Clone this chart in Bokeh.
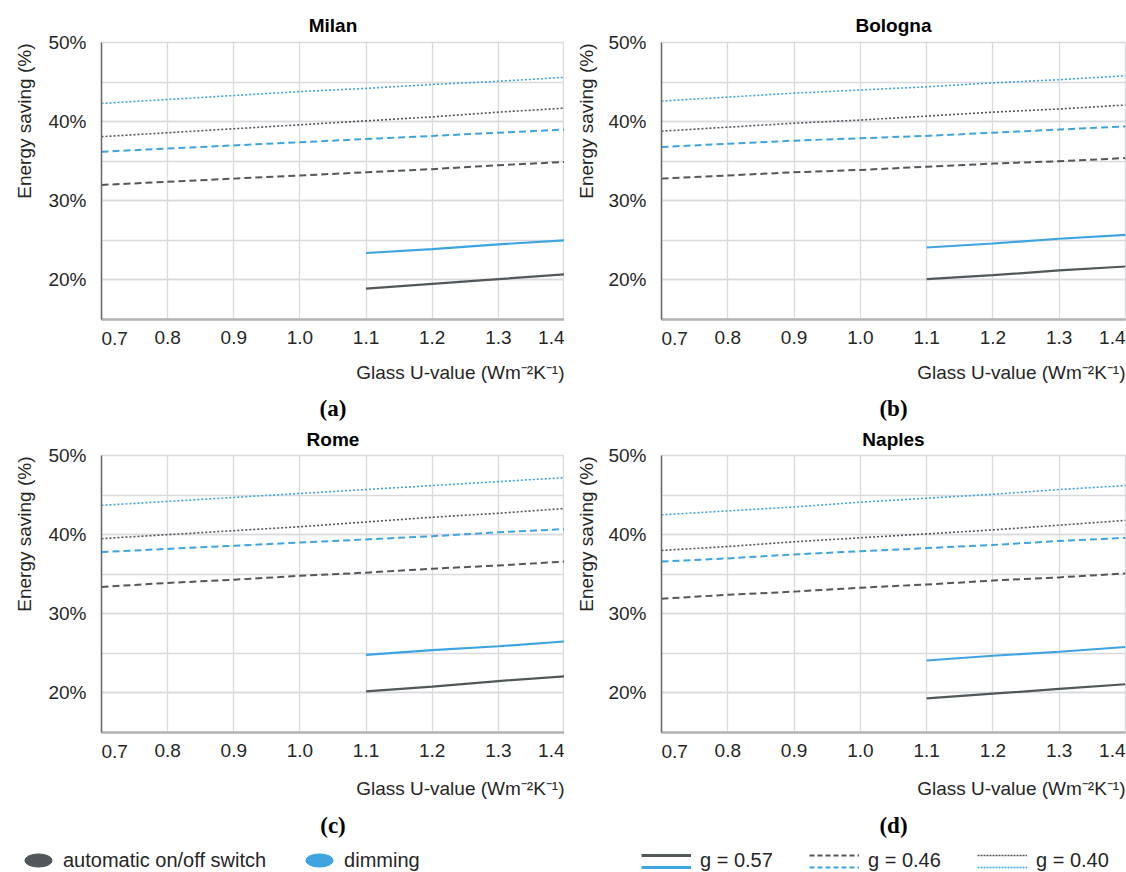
from bokeh.plotting import figure
from bokeh.models import Range1d, FixedTicker, Title, Legend, LegendItem, LinearAxis
from bokeh.layouts import column, row
from bokeh.embed import file_html
from bokeh.resources import INLINE

# ---------------- data ----------------
u_all = [0.7, 0.8, 0.9, 1.0, 1.1, 1.2, 1.3, 1.4]
u_high = [1.1, 1.2, 1.3, 1.4]

x_ticks = [0.7, 0.8, 0.9, 1.0, 1.1, 1.2, 1.3, 1.4]
x_tick_labels = ["0.7", "0.8", "0.9", "1.0", "1.1", "1.2", "1.3", "1.4"]
y_ticks = [20, 30, 40, 50]
y_tick_labels = ["20%", "30%", "40%", "50%"]
y_grid_ticks = [15, 20, 25, 30, 35, 40, 45, 50]

cities = ["Milan", "Bologna", "Rome", "Naples"]
captions = ["(a)", "(b)", "(c)", "(d)"]
controls = ["automatic on/off switch", "dimming"]
g_labels = ["g = 0.57", "g = 0.46", "g = 0.40"]
x_title = "Glass U-value (Wm\u207b\u00b2K\u207b\u00b9)"
y_title = "Energy saving (%)"

# Milan
milan_switch_g040 = [38.1, 38.6, 39.1, 39.6, 40.1, 40.6, 41.2, 41.7]
milan_dimming_g040 = [42.3, 42.8, 43.3, 43.8, 44.2, 44.7, 45.1, 45.6]
milan_switch_g046 = [32.0, 32.4, 32.8, 33.2, 33.6, 34.0, 34.5, 34.9]
milan_dimming_g046 = [36.2, 36.6, 37.0, 37.4, 37.8, 38.2, 38.6, 39.0]
milan_switch_g057 = [18.9, 19.5, 20.1, 20.7]
milan_dimming_g057 = [23.4, 23.9, 24.5, 25.0]

# Bologna
bologna_switch_g040 = [38.8, 39.3, 39.8, 40.2, 40.7, 41.2, 41.6, 42.1]
bologna_dimming_g040 = [42.6, 43.1, 43.6, 44.0, 44.4, 44.9, 45.3, 45.8]
bologna_switch_g046 = [32.8, 33.2, 33.6, 33.9, 34.3, 34.7, 35.0, 35.4]
bologna_dimming_g046 = [36.8, 37.2, 37.6, 37.9, 38.2, 38.6, 39.0, 39.4]
bologna_switch_g057 = [20.1, 20.6, 21.2, 21.7]
bologna_dimming_g057 = [24.1, 24.6, 25.2, 25.7]

# Rome
rome_switch_g040 = [39.5, 40.0, 40.5, 41.0, 41.6, 42.2, 42.7, 43.3]
rome_dimming_g040 = [43.7, 44.2, 44.7, 45.2, 45.7, 46.2, 46.7, 47.2]
rome_switch_g046 = [33.4, 33.9, 34.3, 34.8, 35.2, 35.7, 36.1, 36.6]
rome_dimming_g046 = [37.8, 38.2, 38.6, 39.0, 39.4, 39.8, 40.3, 40.7]
rome_switch_g057 = [20.2, 20.8, 21.5, 22.1]
rome_dimming_g057 = [24.8, 25.4, 25.9, 26.5]

# Naples
naples_switch_g040 = [38.0, 38.5, 39.1, 39.6, 40.1, 40.6, 41.2, 41.8]
naples_dimming_g040 = [42.5, 43.0, 43.5, 44.1, 44.6, 45.1, 45.7, 46.2]
naples_switch_g046 = [31.9, 32.4, 32.8, 33.3, 33.7, 34.2, 34.6, 35.1]
naples_dimming_g046 = [36.6, 37.0, 37.5, 37.9, 38.3, 38.7, 39.2, 39.6]
naples_switch_g057 = [19.3, 19.9, 20.5, 21.1]
naples_dimming_g057 = [24.1, 24.7, 25.2, 25.8]

city_data = {
    "Milan": {"switch": {"g057": milan_switch_g057, "g046": milan_switch_g046, "g040": milan_switch_g040},
              "dimming": {"g057": milan_dimming_g057, "g046": milan_dimming_g046, "g040": milan_dimming_g040}},
    "Bologna": {"switch": {"g057": bologna_switch_g057, "g046": bologna_switch_g046, "g040": bologna_switch_g040},
                "dimming": {"g057": bologna_dimming_g057, "g046": bologna_dimming_g046, "g040": bologna_dimming_g040}},
    "Rome": {"switch": {"g057": rome_switch_g057, "g046": rome_switch_g046, "g040": rome_switch_g040},
             "dimming": {"g057": rome_dimming_g057, "g046": rome_dimming_g046, "g040": rome_dimming_g040}},
    "Naples": {"switch": {"g057": naples_switch_g057, "g046": naples_switch_g046, "g040": naples_switch_g040},
               "dimming": {"g057": naples_dimming_g057, "g046": naples_dimming_g046, "g040": naples_dimming_g040}},
}

# ---------------- styles ----------------
GRAY = "#52575a"
BLUE = "#3ea4e0"
GRID = "#d9d9de"
FONT = "Liberation Sans"
SERIF = "Liberation Serif"
TXT = "#262626"

COLORS = {"switch": GRAY, "dimming": BLUE}
G_KEYS = ["g057", "g046", "g040"]
G_X = {"g057": u_high, "g046": u_all, "g040": u_all}
G_DASH = {"g057": "solid", "g046": "7 4", "g040": "2 2"}
G_WIDTH = {"g057": 2.2, "g046": 2.0, "g040": 1.6}

FRAME_H = 277


def style_axis_labels(ax):
    ax.major_tick_line_color = None
    ax.minor_tick_line_color = None
    ax.major_tick_out = 0
    ax.major_tick_in = 0
    ax.major_label_text_font = FONT
    ax.major_label_text_font_size = "19px"
    ax.major_label_text_color = TXT


def caption_title(text):
    return Title(text=text, align="center", vertical_align="bottom", standoff=0,
                 text_font=SERIF, text_font_size="23px", text_font_style="bold",
                 text_color="black")


def make_panel(city, frame_w, left_b, right_b, top_b, bottom_b, title_so, ylab_so,
               xlab_so, cap_above=None, cap_below=None):
    p = figure(frame_width=frame_w, frame_height=FRAME_H,
               min_border_left=left_b, min_border_right=right_b,
               min_border_top=top_b, min_border_bottom=bottom_b,
               x_range=Range1d(x_ticks[0], x_ticks[-1]), y_range=Range1d(15, 50),
               output_backend="svg", toolbar_location=None, tools="")
    p.background_fill_color = "white"
    p.border_fill_color = "white"
    p.outline_line_color = GRID
    p.outline_line_width = 1.3

    # city title (nearest the frame), then optional caption of the panel above
    p.add_layout(Title(text=city, align="center", standoff=title_so,
                       text_font=FONT, text_font_size="19px", text_font_style="bold",
                       text_color="black"), "above")
    if cap_above is not None:
        p.add_layout(caption_title(cap_above), "above")

    # main x axis: inner tick labels, centred
    xa = p.xaxis[0]
    xa.ticker = FixedTicker(ticks=x_ticks)
    overrides = {t: lab for t, lab in zip(x_ticks, x_tick_labels)}
    overrides[x_ticks[0]] = ""
    overrides[x_ticks[-1]] = ""
    xa.major_label_overrides = overrides
    style_axis_labels(xa)
    xa.major_label_standoff = 11
    xa.axis_line_color = "#b3b3b3"
    xa.axis_line_width = 2.5

    # edge tick labels, aligned inward (tiny orientation picks left / right alignment)
    for tick, lab, orient, standoff in [(x_ticks[0], x_tick_labels[0], -1e-9, -8),
                                        (x_ticks[-1], x_tick_labels[-1], 1e-9, -17)]:
        ea = LinearAxis(ticker=FixedTicker(ticks=[tick]),
                        major_label_overrides={tick: lab},
                        major_label_orientation=orient,
                        major_label_standoff=standoff,
                        axis_line_color=None)
        style_axis_labels(ea)
        p.add_layout(ea, "below")

    # y axis
    ya = p.yaxis[0]
    ya.ticker = FixedTicker(ticks=y_ticks, minor_ticks=y_grid_ticks)
    ya.major_label_overrides = {t: lab for t, lab in zip(y_ticks, y_tick_labels)}
    style_axis_labels(ya)
    ya.major_label_standoff = 11
    ya.axis_line_color = "#6a6a6a"
    ya.axis_line_width = 1.5

    p.xgrid.grid_line_color = GRID
    p.xgrid.grid_line_width = 1.3
    p.ygrid.grid_line_color = GRID
    p.ygrid.grid_line_width = 1.3
    p.ygrid.minor_grid_line_color = GRID
    p.ygrid.minor_grid_line_width = 1.3

    # axis titles and caption below
    p.add_layout(Title(text=y_title, align="right", offset=1, standoff=ylab_so,
                       text_font=FONT, text_font_size="19px", text_font_style="normal",
                       text_color=TXT), "left")
    p.add_layout(Title(text=x_title, align="right", vertical_align="top", standoff=xlab_so,
                       text_font=FONT, text_font_size="19px", text_font_style="normal",
                       text_color=TXT), "below")
    if cap_below is not None:
        p.add_layout(caption_title(cap_below), "below")

    series = city_data[city]
    for g in ["g040", "g046", "g057"]:
        for ctl in ["switch", "dimming"]:
            p.line(G_X[g], series[ctl][g], line_color=COLORS[ctl],
                   line_width=G_WIDTH[g], line_dash=G_DASH[g])
    return p


# top row: captions (a)/(b) sit above the bottom-row titles
p1 = make_panel(cities[0], 463, 99, 0, 42, 74, 14, 22, 14)
p2 = make_panel(cities[1], 464, 97, 3, 42, 74, 14, 18, 14)
p3 = make_panel(cities[2], 463, 99, 0, 61, 107, 12, 22, 20, cap_above=captions[0], cap_below=captions[2])
p4 = make_panel(cities[3], 464, 97, 3, 61, 107, 12, 18, 20, cap_above=captions[1], cap_below=captions[3])

# ---------------- legend strip ----------------
leg = figure(width=1126, height=34, x_range=Range1d(0, 1), y_range=Range1d(0, 1),
             min_border=0, toolbar_location=None, tools="", output_backend="svg",
             x_axis_type=None, y_axis_type=None)
leg.outline_line_color = None
leg.background_fill_color = "white"
leg.border_fill_color = "white"

NAN2 = [float("nan"), float("nan")]
r_switch = leg.ellipse(NAN2, NAN2, width=27, height=13, width_units="screen",
                       height_units="screen", fill_color=GRAY, line_color=GRAY)
r_dimming = leg.ellipse(NAN2, NAN2, width=27, height=13, width_units="screen",
                        height_units="screen", fill_color=BLUE, line_color=BLUE)

common = dict(orientation="horizontal", padding=0, margin=0, border_line_color=None,
              background_fill_alpha=0, label_text_font=FONT, label_text_font_size="20px",
              label_text_color=TXT)

leg_ctl = Legend(items=[LegendItem(label=controls[0], renderers=[r_switch]),
                        LegendItem(label=controls[1], renderers=[r_dimming])],
                 location=(21, -4), glyph_width=34, glyph_height=34,
                 label_standoff=8, spacing=36, **common)
leg.add_layout(leg_ctl)

LEG_DASH = {"g057": "solid", "g046": "5 3", "g040": "2 1"}
LEG_WIDTH = {"g057": 3, "g046": 2, "g040": 1.5}

gray_items, blue_items, text_items = [], [], []
for g, lab in zip(G_KEYS, g_labels):
    rg = leg.line(NAN2, NAN2, line_color=GRAY, line_width=LEG_WIDTH[g], line_dash=LEG_DASH[g])
    rb = leg.line(NAN2, NAN2, line_color=BLUE, line_width=LEG_WIDTH[g], line_dash=LEG_DASH[g])
    rt = leg.line(NAN2, NAN2, line_color=GRAY, line_alpha=0)
    gray_items.append(LegendItem(label="\u00a0", renderers=[rg]))
    blue_items.append(LegendItem(label="\u00a0", renderers=[rb]))
    text_items.append(LegendItem(label=lab, renderers=[rt]))

gcommon = dict(glyph_width=50, glyph_height=12, label_standoff=9, label_width=73, spacing=36)
leg.add_layout(Legend(items=gray_items, location=(641, 6.5), **gcommon, **common))
leg.add_layout(Legend(items=blue_items, location=(641, -5.5), **gcommon, **common))
leg.add_layout(Legend(items=text_items, location=(641, 1.5), **gcommon, **common))

layout = column(row(p1, p2), row(p3, p4), leg)

open("out.html", "w").write(file_html(layout, INLINE))
